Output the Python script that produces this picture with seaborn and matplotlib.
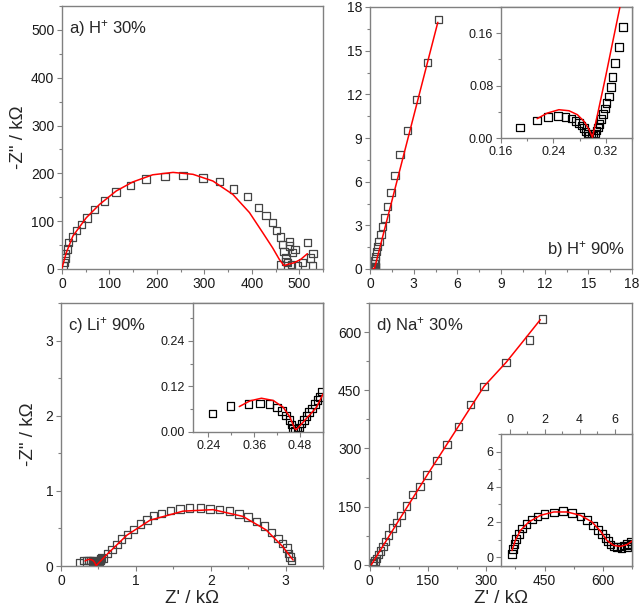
import numpy as np
import pandas as pd
import seaborn as sns
import matplotlib.pyplot as plt
from matplotlib.ticker import AutoMinorLocator, FormatStrFormatter

# ---- a) H+ 30% (kOhm) ----
a_x = [2, 4, 6, 8, 11, 14, 22, 30, 41, 53, 69, 90, 114, 145, 177, 217, 255, 297, 332,
       362, 391, 414, 430, 444, 452, 460, 465, 468, 472, 475, 461, 472, 479, 480, 486,
       491, 484, 496, 507, 517, 524, 529, 528]
a_y = [6, 14, 23, 32, 42, 55, 67, 81, 93, 107, 125, 142, 161, 174, 188, 193, 195, 190, 183,
       167, 151, 128, 112, 97, 81, 67, 51, 37, 23, 13, 8, 16, 48, 58, 34,
       41, 9, 7, 13, 55, 23, 32, 6]
a_fit_x = [0, 9, 23, 51, 79, 114, 149, 191, 234, 276, 318, 360, 395, 423, 444, 458, 468,
           477, 489, 503, 517]
a_fit_y = [2, 34, 69, 107, 135, 163, 182, 197, 202, 198, 184, 156, 118, 76, 44, 20, 7,
           10, 13, 20, 32]

# ---- b) H+ 90% ----
b_x = [4.70, 3.94, 3.21, 2.57, 2.06, 1.72, 1.44, 1.22, 1.03, 0.87, 0.76, 0.62, 0.53, 0.46,
       0.39, 0.34, 0.30, 0.23, 0.16, 0.12]
b_y = [17.13, 14.2, 11.63, 9.5, 7.85, 6.43, 5.27, 4.3, 3.5, 2.93, 2.36, 1.9, 1.56, 1.21,
       0.87, 0.6, 0.34, 0.18, 0.1, 0.05]
b_fit_x = [0.30, 1.0, 2.0, 3.0, 4.0, 4.66]
b_fit_y = [0.0, 2.72, 6.61, 10.5, 14.39, 16.95]

b_in_x = [0.1886, 0.2152, 0.2316, 0.2474, 0.2587, 0.2674, 0.2740, 0.2791, 0.2832, 0.2868,
          0.2893, 0.2919, 0.2945, 0.2980, 0.3011, 0.3032, 0.3057, 0.3078, 0.3103, 0.3129,
          0.3154, 0.3185, 0.3210, 0.3246, 0.3277, 0.3302, 0.3338, 0.3405, 0.3466]
b_in_y = [0.0163, 0.0269, 0.0320, 0.0335, 0.0320, 0.0295, 0.0264, 0.0229, 0.0188, 0.0152,
          0.0102, 0.0066, 0.0040, 0.0025, 0.0036, 0.0066, 0.0112, 0.0163, 0.0218, 0.0290,
          0.0371, 0.0452, 0.0533, 0.0635, 0.0777, 0.0930, 0.1143, 0.1387, 0.1691]
b_in_fit_x = [0.2152, 0.2306, 0.2484, 0.2638, 0.2766, 0.2868, 0.2945, 0.2996, 0.3073, 0.3200,
              0.3300, 0.3415]
b_in_fit_y = [0.0295, 0.0380, 0.0432, 0.0416, 0.0356, 0.0254, 0.0127, 0.0010, 0.0356, 0.0950,
              0.1440, 0.1996]

# ---- c) Li+ 90% ----
c_in_x = [0.2505, 0.298, 0.345, 0.376, 0.400, 0.419, 0.432, 0.443, 0.452, 0.458, 0.462, 0.467,
          0.473, 0.478, 0.484, 0.490, 0.497, 0.504, 0.511, 0.519, 0.526, 0.532, 0.538]
c_in_y = [0.049, 0.069, 0.074, 0.0756, 0.073, 0.065, 0.056, 0.044, 0.031, 0.020, 0.009, 0.003,
          0.004, 0.012, 0.022, 0.031, 0.042, 0.052, 0.062, 0.073, 0.084, 0.093, 0.107]
c_in_fit_x = [0.321, 0.349, 0.379, 0.410, 0.436, 0.453, 0.466, 0.470, 0.497, 0.523, 0.540]
c_in_fit_y = [0.067, 0.082, 0.089, 0.083, 0.065, 0.040, 0.009, 0.006, 0.036, 0.065, 0.100]

c_arc_x = [0.57, 0.62, 0.68, 0.75, 0.81, 0.89, 0.97, 1.06, 1.15, 1.24, 1.34, 1.46, 1.59,
           1.72, 1.86, 1.99, 2.12, 2.25, 2.38, 2.50, 2.61, 2.72, 2.81, 2.90, 2.96, 3.02,
           3.04, 3.06, 3.08]
c_arc_y = [0.10, 0.17, 0.22, 0.29, 0.36, 0.42, 0.49, 0.56, 0.61, 0.67, 0.70, 0.74, 0.76,
           0.77, 0.77, 0.76, 0.75, 0.73, 0.69, 0.65, 0.59, 0.53, 0.45, 0.37, 0.30, 0.24,
           0.17, 0.12, 0.07]
c_fit_x = [0.61, 0.88, 1.19, 1.63, 2.03, 2.43, 2.74, 2.96, 3.10]
c_fit_y = [0.15, 0.41, 0.61, 0.73, 0.75, 0.66, 0.48, 0.26, 0.08]

# ---- d) Na+ 30% ----
d_x = [444, 411, 351, 294, 260, 229, 199, 173, 147, 129, 110, 94, 80, 69, 58, 49, 40, 34,
       28, 23, 17, 13, 9, 6]
d_y = [634, 580, 522, 460, 413, 357, 311, 269, 232, 202, 181, 152, 127, 109, 95, 77, 60, 47,
       36, 26, 17, 10, 6, 3]
d_fit_x = [4, 75, 150, 225, 294, 351, 400, 439]
d_fit_y = [0, 115, 235, 352, 460, 522, 583, 632]

d_in_x = [0.13, 0.19, 0.27, 0.36, 0.52, 0.71, 0.95, 1.28, 1.60, 1.98, 2.52, 3.05, 3.57,
          4.05, 4.43, 4.77, 5.06, 5.29, 5.48, 5.61, 5.76, 5.95, 6.15, 6.34, 6.53, 6.72,
          6.91, 6.40, 6.75, 6.98]
d_in_y = [0.19, 0.48, 0.76, 1.05, 1.33, 1.62, 1.90, 2.15, 2.32, 2.44, 2.55, 2.61, 2.51,
          2.32, 2.10, 1.81, 1.56, 1.33, 1.10, 0.91, 0.72, 0.61, 0.57, 0.61, 0.67, 0.76,
          0.90, 0.50, 0.58, 0.68]
d_in_fit_x = [0.13, 0.32, 0.61, 1.09, 1.76, 2.52, 3.28, 4.05, 4.71, 5.19, 5.57, 5.95, 6.34,
              6.72, 7.00]
d_in_fit_y = [0.38, 0.95, 1.52, 2.00, 2.38, 2.57, 2.57, 2.38, 2.00, 1.49, 0.95, 0.67, 0.61,
              0.72, 0.91]

sns.set_style("ticks")
plt.rcParams['font.family'] = ['Liberation Sans', 'DejaVu Sans']
plt.rcParams['mathtext.fontset'] = 'custom'
plt.rcParams['mathtext.rm'] = 'Liberation Sans'
plt.rcParams['mathtext.default'] = 'regular'

GREY = '#808080'
RED = '#ff0000'
LABEL_FS = 13.5


def style(ax, xlim, ylim, xticks, yticks, fs=10, fmt=None):
    ax.set_xlim(xlim)
    ax.set_ylim(ylim)
    ax.set_xticks(xticks)
    ax.set_yticks(yticks)
    if fmt:
        ax.xaxis.set_major_formatter(FormatStrFormatter(fmt))
        ax.yaxis.set_major_formatter(FormatStrFormatter(fmt))
    ax.xaxis.set_minor_locator(AutoMinorLocator(2))
    ax.yaxis.set_minor_locator(AutoMinorLocator(2))
    ax.tick_params(which='both', direction='out', color=GREY, labelsize=fs,
                   labelcolor='#1a1a1a', width=0.8, pad=2)
    ax.tick_params(which='major', length=3.5)
    ax.tick_params(which='minor', length=2)
    for s in ax.spines.values():
        s.set_color(GREY)
        s.set_linewidth(1)
        s.set_visible(True)
    ax.set_xlabel('')
    ax.set_ylabel('')


def squares(ax, x, y, ec='#444444', s=28):
    sns.scatterplot(x=x, y=y, ax=ax, marker='s', s=s, color='none',
                    edgecolor=ec, linewidth=0.9, zorder=2)


def fit(ax, x, y):
    sns.lineplot(x=x, y=y, ax=ax, sort=False, estimator=None, color=RED,
                 linewidth=1.1, zorder=3)


fig = plt.figure(figsize=(6.4, 6.11), dpi=100)
W, H = 640, 611


def rect(l, t, r, b):
    return [l / W, (H - b) / H, (r - l) / W, (b - t) / H]


# a
ax_a = fig.add_axes(rect(62, 6, 323, 269))
squares(ax_a, a_x, a_y)
fit(ax_a, a_fit_x, a_fit_y)
style(ax_a, (0, 550), (0, 550), range(0, 501, 100), range(0, 501, 100))
ax_a.set_ylabel('-Z" / k\u03a9', fontsize=LABEL_FS, labelpad=3)
ax_a.text(0.025, 0.955, 'a) H$^{+}$ 30%', transform=ax_a.transAxes, fontsize=12,
          va='top', ha='left')

# b
ax_b = fig.add_axes(rect(370, 7, 632, 269))
squares(ax_b, b_x + b_in_x, b_y + b_in_y)
fit(ax_b, b_in_fit_x[:8] + b_fit_x, b_in_fit_y[:8] + b_fit_y)
style(ax_b, (0, 18), (0, 18), range(0, 19, 3), range(0, 19, 3))
ax_b.text(0.975, 0.035, 'b) H$^{+}$ 90%', transform=ax_b.transAxes, fontsize=12,
          va='bottom', ha='right')

ax_bi = fig.add_axes(rect(501, 7, 632, 138))
ax_bi.set_facecolor('white')
squares(ax_bi, b_in_x, b_in_y, ec='black', s=30)
fit(ax_bi, b_in_fit_x, b_in_fit_y)
style(ax_bi, (0.16, 0.36), (0, 0.2), [0.16, 0.24, 0.32], [0.0, 0.08, 0.16], fs=9, fmt='%.2f')

# c
ax_c = fig.add_axes(rect(61, 303, 323, 566))
squares(ax_c, c_in_x + c_arc_x, c_in_y + c_arc_y)
fit(ax_c, c_in_fit_x[:8] + c_fit_x, c_in_fit_y[:8] + c_fit_y)
style(ax_c, (0, 3.5), (0, 3.5), range(0, 4), range(0, 4))
ax_c.set_ylabel('-Z" / k\u03a9', fontsize=LABEL_FS, labelpad=6)
ax_c.set_xlabel("Z' / k\u03a9", fontsize=LABEL_FS, labelpad=2)
ax_c.text(0.025, 0.955, 'c) Li$^{+}$ 90%', transform=ax_c.transAxes, fontsize=12,
          va='top', ha='left')

ax_ci = fig.add_axes(rect(193, 303, 323, 432))
ax_ci.set_facecolor('white')
squares(ax_ci, c_in_x, c_in_y, ec='black', s=30)
fit(ax_ci, c_in_fit_x, c_in_fit_y)
style(ax_ci, (0.2, 0.54), (0, 0.34), [0.24, 0.36, 0.48], [0.0, 0.12, 0.24], fs=9, fmt='%.2f')

# d
ax_d = fig.add_axes(rect(369, 303, 632, 566))
squares(ax_d, d_x, d_y)
fit(ax_d, d_fit_x, d_fit_y)
style(ax_d, (-2, 675), (-3, 675), range(0, 601, 150), range(0, 601, 150))
ax_d.set_xlabel("Z' / k\u03a9", fontsize=LABEL_FS, labelpad=2)
ax_d.text(0.025, 0.955, 'd) Na$^{+}$ 30%', transform=ax_d.transAxes, fontsize=12,
          va='top', ha='left')

ax_di = fig.add_axes(rect(501, 434, 632, 566))
ax_di.set_facecolor('white')
squares(ax_di, d_in_x, d_in_y, ec='black', s=30)
fit(ax_di, d_in_fit_x, d_in_fit_y)
style(ax_di, (-0.5, 7), (-0.5, 7), [0, 2, 4, 6], [0, 2, 4, 6], fs=9)
ax_di.xaxis.tick_top()
ax_di.tick_params(which='both', direction='out', color=GREY)

fig.savefig('out.png', dpi=100)
